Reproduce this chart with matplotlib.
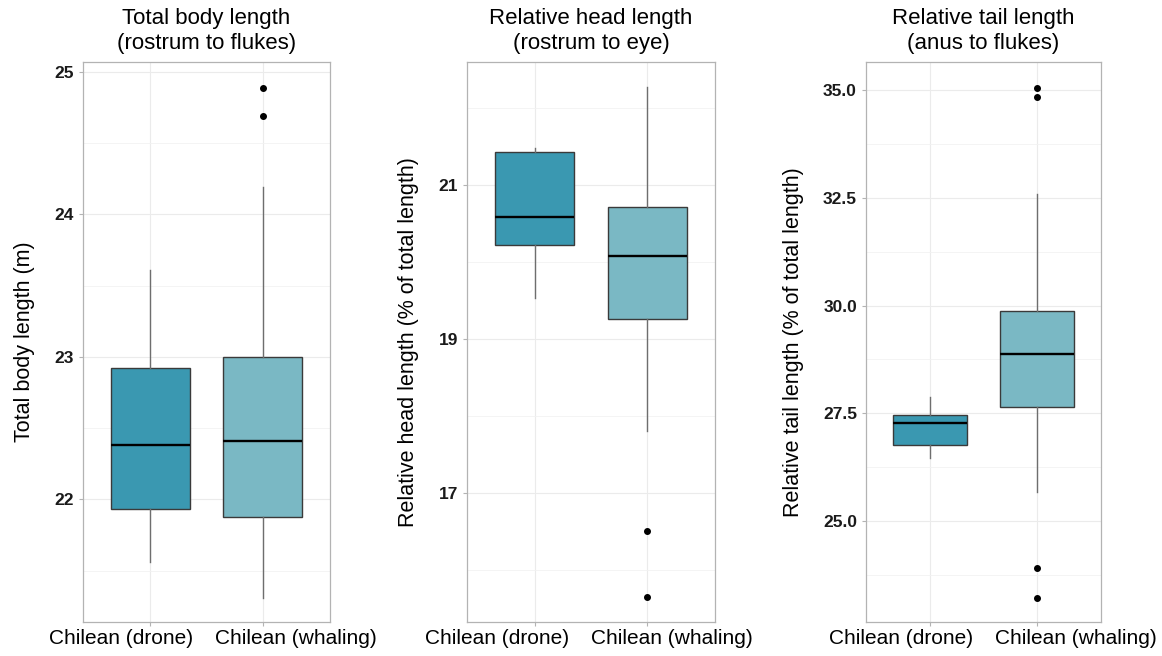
import matplotlib.pyplot as plt
from matplotlib.ticker import FixedLocator

plt.rcParams['font.family'] = ['Liberation Sans', 'DejaVu Sans']

groups = ["Chilean (drone)", "Chilean (whaling)"]
colors = ["#3a98b1", "#7ab8c4"]

titles = ["Total body length\n(rostrum to flukes)",
          "Relative head length\n(rostrum to eye)",
          "Relative tail length\n(anus to flukes)"]
ylabels = ["Total body length (m)",
           "Relative head length (% of total length)",
           "Relative tail length (% of total length)"]

# box stats per panel: [drone, whaling] -> (whislo, q1, med, q3, whishi)
body_stats = [(21.56, 21.93, 22.38, 22.92, 23.61), (21.31, 21.88, 22.41, 23.00, 24.19)]
body_outliers = [[], [24.89, 24.69]]
head_stats = [(19.53, 20.22, 20.59, 21.43, 21.48), (17.81, 19.26, 20.08, 20.72, 22.27)]
head_outliers = [[], [16.51, 15.65]]
tail_stats = [(26.48, 26.77, 27.28, 27.47, 27.89), (25.67, 27.65, 28.87, 29.87, 32.59)]
tail_outliers = [[], [35.03, 34.82, 23.91, 23.23]]

body_ticks = [22, 23, 24, 25]
head_ticks = [17, 19, 21]
tail_ticks = [25.0, 27.5, 30.0, 32.5, 35.0]
body_minor = [21.5, 22.5, 23.5, 24.5]
head_minor = [16, 18, 20, 22]
tail_minor = [23.75, 26.25, 28.75, 31.25, 33.75]

ylims = [(21.14, 25.07), (15.33, 22.60), (22.67, 35.64)]
tick_fmt = ["{:.0f}", "{:.0f}", "{:.1f}"]
positions = [(0.0714, 0.2126), (0.4019, 0.2134), (0.7453, 0.2022)]
label_x = [(0.154, 0.862), (0.121, 0.827), (0.150, 0.891)]

all_stats = [body_stats, head_stats, tail_stats]
all_outliers = [body_outliers, head_outliers, tail_outliers]
all_ticks = [body_ticks, head_ticks, tail_ticks]
all_minor = [body_minor, head_minor, tail_minor]

fig = plt.figure(figsize=(11.62, 6.56), dpi=100)

for i in range(3):
    left, width = positions[i]
    ax = fig.add_axes([left, 0.0518, width, 0.8537])
    bxp_data = []
    for j in range(2):
        lo, q1, med, q3, hi = all_stats[i][j]
        bxp_data.append(dict(whislo=lo, q1=q1, med=med, q3=q3, whishi=hi,
                             fliers=all_outliers[i][j], label=groups[j]))
    bp = ax.bxp(bxp_data, positions=[1, 2], widths=0.7, patch_artist=True,
                showcaps=False, zorder=3,
                boxprops=dict(edgecolor="#3a3a3a", linewidth=1.0),
                medianprops=dict(color="black", linewidth=1.7),
                whiskerprops=dict(color="#6e6e6e", linewidth=1.0),
                flierprops=dict(marker="o", markerfacecolor="black",
                                markeredgecolor="black", markersize=4))
    for patch, c in zip(bp["boxes"], colors):
        patch.set_facecolor(c)

    ax.set_xlim(0.4, 2.6)
    ax.yaxis.set_major_locator(FixedLocator(all_ticks[i]))
    ax.yaxis.set_minor_locator(FixedLocator(all_minor[i]))
    ax.set_yticklabels([tick_fmt[i].format(t) for t in all_ticks[i]])
    ax.set_ylim(*ylims[i])
    ax.set_xticks([1, 2])
    ax.set_xticklabels([])
    # group labels sit a little wider apart than the boxes, as in the original
    for j in range(2):
        ax.text(label_x[i][j], -0.012, groups[j], transform=ax.transAxes,
                ha="center", va="top", fontsize=15, color="black")

    ax.grid(True, which="major", color="#ebebeb", linewidth=0.8, zorder=0)
    ax.grid(True, which="minor", axis="y", color="#f2f2f2", linewidth=0.6, zorder=0)
    ax.set_axisbelow(True)
    for s in ax.spines.values():
        s.set_color("#b3b3b3")
        s.set_linewidth(0.9)
    ax.tick_params(axis="both", which="major", color="#b3b3b3", length=3, width=0.8)
    ax.tick_params(axis="y", which="minor", length=0)
    for lab in ax.get_yticklabels():
        lab.set_fontweight("bold")
        lab.set_fontsize(12.5)
        lab.set_color("#1a1a1a")

    ax.set_title(titles[i], fontsize=16, linespacing=1.25, pad=9)
    ax.set_ylabel(ylabels[i], fontsize=15.5, labelpad=14)

fig.savefig("out.png", dpi=100)
